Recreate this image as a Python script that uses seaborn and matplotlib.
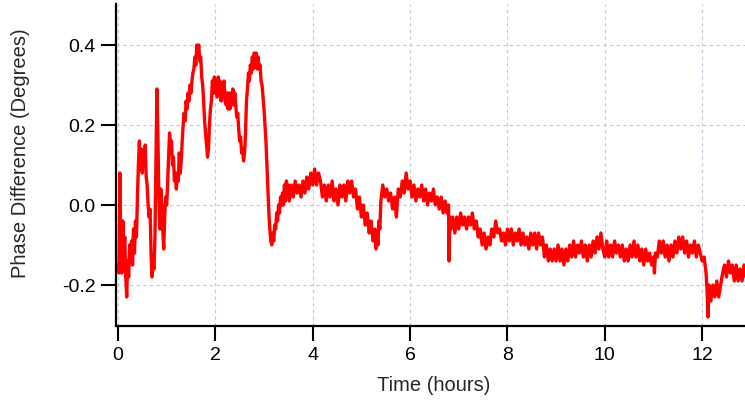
import matplotlib
matplotlib.use("Agg")
import matplotlib.pyplot as plt
import seaborn as sns
import pandas as pd

# Data (time in hours, phase difference in degrees)
time_h = [
    0.00, 0.02, 0.04, 0.06, 0.08, 0.10, 0.12, 0.14, 0.16, 0.18, 0.20, 0.22, 0.24, 0.26, 0.28, 0.30,
    0.32, 0.34, 0.36, 0.38, 0.40, 0.42, 0.44, 0.46, 0.48, 0.50, 0.52, 0.54, 0.56, 0.58, 0.60, 0.62,
    0.64, 0.66, 0.68, 0.70, 0.72, 0.74, 0.76, 0.78, 0.80, 0.82, 0.84, 0.86, 0.88, 0.90, 0.92, 0.94,
    0.96, 0.98, 1.00, 1.02, 1.04, 1.06, 1.08, 1.10, 1.12, 1.14, 1.16, 1.18, 1.20, 1.22, 1.24, 1.26,
    1.28, 1.30, 1.32, 1.34, 1.36, 1.38, 1.40, 1.42, 1.44, 1.46, 1.48, 1.50, 1.52, 1.54, 1.56, 1.58,
    1.60, 1.62, 1.64, 1.66, 1.68, 1.70, 1.72, 1.74, 1.76, 1.78, 1.80, 1.82, 1.84, 1.86, 1.88, 1.90,
    1.92, 1.94, 1.96, 1.98, 2.00, 2.02, 2.04, 2.06, 2.08, 2.10, 2.12, 2.14, 2.16, 2.18, 2.20, 2.22,
    2.24, 2.26, 2.28, 2.30, 2.32, 2.34, 2.36, 2.38, 2.40, 2.42, 2.44, 2.46, 2.48, 2.50, 2.52, 2.54,
    2.56, 2.58, 2.60, 2.62, 2.64, 2.66, 2.68, 2.70, 2.72, 2.74, 2.76, 2.78, 2.80, 2.82, 2.84, 2.86,
    2.88, 2.90, 2.92, 2.94, 2.96, 2.98, 3.00, 3.02, 3.04, 3.06, 3.08, 3.10, 3.12, 3.14, 3.16, 3.18,
    3.20, 3.22, 3.24, 3.26, 3.28, 3.30, 3.32, 3.34, 3.36, 3.38, 3.40, 3.42, 3.44, 3.46, 3.48, 3.50,
    3.52, 3.56, 3.60, 3.64, 3.68, 3.72, 3.76, 3.80, 3.84, 3.88, 3.92, 3.96, 4.00, 4.04, 4.08, 4.12,
    4.16, 4.20, 4.24, 4.28, 4.32, 4.36, 4.40, 4.44, 4.48, 4.52, 4.56, 4.60, 4.64, 4.68, 4.72, 4.76,
    4.80, 4.84, 4.88, 4.92, 4.96, 5.00, 5.04, 5.08, 5.12, 5.16, 5.20, 5.24, 5.28, 5.30, 5.32, 5.34,
    5.36, 5.38, 5.40, 5.44, 5.48, 5.52, 5.56, 5.60, 5.64, 5.68, 5.72, 5.74, 5.76, 5.80, 5.84, 5.88,
    5.92, 5.96, 6.00, 6.04, 6.08, 6.12, 6.16, 6.20, 6.24, 6.28, 6.32, 6.36, 6.40, 6.44, 6.48, 6.52,
    6.56, 6.60, 6.64, 6.68, 6.72, 6.76, 6.79, 6.80, 6.82, 6.84, 6.88, 6.92, 6.96, 7.00, 7.04, 7.08,
    7.12, 7.16, 7.20, 7.24, 7.28, 7.32, 7.36, 7.40, 7.44, 7.48, 7.52, 7.56, 7.60, 7.64, 7.68, 7.72,
    7.76, 7.80, 7.84, 7.88, 7.92, 7.96, 8.00, 8.04, 8.08, 8.12, 8.16, 8.20, 8.24, 8.28, 8.32, 8.36,
    8.40, 8.44, 8.48, 8.52, 8.56, 8.60, 8.64, 8.68, 8.72, 8.76, 8.80, 8.84, 8.88, 8.92, 8.96, 9.00,
    9.04, 9.08, 9.12, 9.16, 9.20, 9.24, 9.28, 9.32, 9.36, 9.40, 9.44, 9.48, 9.52, 9.56, 9.60, 9.64,
    9.68, 9.72, 9.76, 9.80, 9.84, 9.88, 9.92, 9.96, 10.00, 10.04, 10.08, 10.12, 10.16, 10.20, 10.24, 10.28,
    10.32, 10.36, 10.40, 10.44, 10.48, 10.52, 10.56, 10.60, 10.64, 10.68, 10.72, 10.76, 10.80, 10.84, 10.88, 10.92,
    10.96, 11.00, 11.02, 11.04, 11.08, 11.12, 11.16, 11.20, 11.24, 11.28, 11.32, 11.36, 11.40, 11.44, 11.48, 11.52,
    11.56, 11.60, 11.64, 11.68, 11.72, 11.76, 11.80, 11.84, 11.88, 11.92, 11.96, 12.00, 12.04, 12.08, 12.10, 12.12,
    12.14, 12.18, 12.22, 12.26, 12.30, 12.34, 12.38, 12.42, 12.46, 12.50, 12.54, 12.58, 12.62, 12.66, 12.70, 12.74,
    12.78, 12.82, 12.86, 12.90,
]
phase_deg = [
    -0.15, -0.17, 0.08, -0.10, -0.17, -0.04, -0.12, -0.08, -0.18, -0.23, -0.14, -0.18, -0.10, -0.13, -0.09, -0.15,
    -0.06, -0.12, -0.04, -0.08, 0.02, 0.10, 0.16, 0.09, 0.14, 0.08, 0.13, 0.10, 0.15, 0.07, 0.05, 0.00,
    -0.03, -0.01, -0.12, -0.18, -0.14, -0.16, -0.08, 0.10, 0.29, 0.18, 0.02, -0.06, 0.04, 0.00, -0.06, -0.11,
    -0.03, 0.02, 0.00, 0.05, 0.12, 0.18, 0.15, 0.16, 0.10, 0.12, 0.06, 0.08, 0.04, 0.08, 0.06, 0.13,
    0.08, 0.11, 0.16, 0.20, 0.23, 0.21, 0.26, 0.24, 0.28, 0.26, 0.30, 0.28, 0.31, 0.33, 0.34, 0.37,
    0.35, 0.40, 0.38, 0.40, 0.36, 0.37, 0.32, 0.30, 0.26, 0.21, 0.18, 0.15, 0.12, 0.14, 0.20, 0.24,
    0.26, 0.31, 0.28, 0.32, 0.28, 0.31, 0.27, 0.32, 0.28, 0.31, 0.26, 0.30, 0.27, 0.31, 0.26, 0.25,
    0.28, 0.24, 0.28, 0.24, 0.28, 0.25, 0.29, 0.25, 0.28, 0.25, 0.22, 0.23, 0.19, 0.16, 0.17, 0.13,
    0.14, 0.11, 0.13, 0.18, 0.26, 0.29, 0.33, 0.31, 0.35, 0.33, 0.37, 0.34, 0.38, 0.35, 0.38, 0.34,
    0.37, 0.34, 0.35, 0.31, 0.30, 0.27, 0.24, 0.20, 0.16, 0.10, 0.04, -0.02, -0.06, -0.09, -0.10, -0.07,
    -0.09, -0.05, -0.06, -0.02, -0.04, 0.00, -0.02, 0.02, 0.00, 0.03, 0.00, 0.05, 0.01, 0.06, 0.02, 0.05,
    0.01, 0.05, 0.02, 0.06, 0.03, 0.05, 0.02, 0.06, 0.03, 0.07, 0.04, 0.08, 0.05, 0.09, 0.05, 0.08,
    0.06, 0.02, 0.05, 0.01, 0.05, 0.02, 0.06, 0.01, 0.04, 0.00, 0.05, 0.02, 0.05, 0.01, 0.06, 0.03,
    0.06, 0.02, 0.04, -0.01, 0.02, -0.03, 0.00, -0.05, -0.02, -0.07, -0.04, -0.09, -0.06, -0.11, -0.07, -0.10,
    -0.04, -0.06, 0.01, 0.05, 0.02, 0.04, 0.01, 0.03, -0.01, 0.02, -0.03, 0.01, 0.04, 0.02, 0.06, 0.03,
    0.08, 0.04, 0.06, 0.02, 0.05, 0.01, 0.04, 0.02, 0.05, 0.01, 0.04, 0.00, 0.03, 0.01, 0.04, 0.00,
    0.02, -0.01, 0.02, -0.02, 0.01, -0.02, 0.00, -0.14, -0.03, -0.06, -0.03, -0.07, -0.03, -0.06, -0.02, -0.05,
    -0.03, -0.06, -0.03, -0.05, -0.02, -0.06, -0.04, -0.08, -0.06, -0.10, -0.07, -0.11, -0.08, -0.10, -0.06, -0.08,
    -0.04, -0.07, -0.06, -0.09, -0.07, -0.10, -0.06, -0.09, -0.06, -0.10, -0.07, -0.09, -0.06, -0.10, -0.07, -0.10,
    -0.08, -0.11, -0.07, -0.10, -0.07, -0.11, -0.07, -0.10, -0.08, -0.13, -0.10, -0.14, -0.11, -0.14, -0.11, -0.14,
    -0.10, -0.14, -0.11, -0.15, -0.11, -0.14, -0.10, -0.13, -0.09, -0.13, -0.10, -0.12, -0.09, -0.13, -0.10, -0.14,
    -0.10, -0.13, -0.09, -0.12, -0.08, -0.11, -0.07, -0.11, -0.13, -0.09, -0.13, -0.10, -0.13, -0.09, -0.12, -0.10,
    -0.13, -0.10, -0.14, -0.11, -0.14, -0.10, -0.13, -0.09, -0.13, -0.10, -0.14, -0.11, -0.15, -0.11, -0.14, -0.12,
    -0.15, -0.13, -0.17, -0.12, -0.13, -0.09, -0.12, -0.09, -0.13, -0.10, -0.14, -0.10, -0.13, -0.09, -0.12, -0.08,
    -0.11, -0.08, -0.12, -0.09, -0.13, -0.10, -0.12, -0.09, -0.13, -0.10, -0.12, -0.14, -0.13, -0.17, -0.21, -0.28,
    -0.20, -0.24, -0.20, -0.23, -0.19, -0.23, -0.20, -0.17, -0.15, -0.18, -0.14, -0.17, -0.15, -0.19, -0.15, -0.19,
    -0.16, -0.19, -0.15, -0.18,
]
assert len(time_h) == len(phase_deg)

df = pd.DataFrame({"Time (hours)": time_h, "Phase": phase_deg})

sns.set_style("ticks")
plt.rcParams["font.family"] = ["Liberation Sans", "DejaVu Sans"]
plt.rcParams["axes.unicode_minus"] = False

fig = plt.figure(figsize=(7.45, 4.02), dpi=100)
ax = fig.add_axes([116 / 745, 75 / 402, 1 - 116 / 745, 322 / 402])

sns.lineplot(data=df, x="Time (hours)", y="Phase", color="#ff0000", linewidth=2.4, ax=ax)

ax.set_xlim(-0.04, 12.88)
ax.set_ylim(-0.3025, 0.5025)
ax.set_xticks([0, 2, 4, 6, 8, 10, 12])
ax.set_yticks([-0.2, 0.0, 0.2, 0.4])
ax.set_yticklabels(["-0.2", "0.0", "0.2", "0.4"])

# dashed light grid like the original
ax.grid(True, linestyle=(0, (3, 3)), color="#c4c4dc", linewidth=0.8)
ax.set_axisbelow(True)
sns.despine(ax=ax)
for side in ["left", "bottom"]:
    ax.spines[side].set_linewidth(1.6)
    ax.spines[side].set_color("black")

ax.tick_params(axis="both", direction="out", length=11, width=1.5, pad=3.5,
               labelsize=14, colors="black")
ax.set_xlabel("Time (hours)", fontsize=14.5)
ax.set_ylabel("Phase Difference (Degrees)", fontsize=14.5)
ax.yaxis.set_label_coords(-0.136, 0.539)
ax.xaxis.set_label_coords(0.505, -0.152)

plt.savefig("out.png", dpi=100)
